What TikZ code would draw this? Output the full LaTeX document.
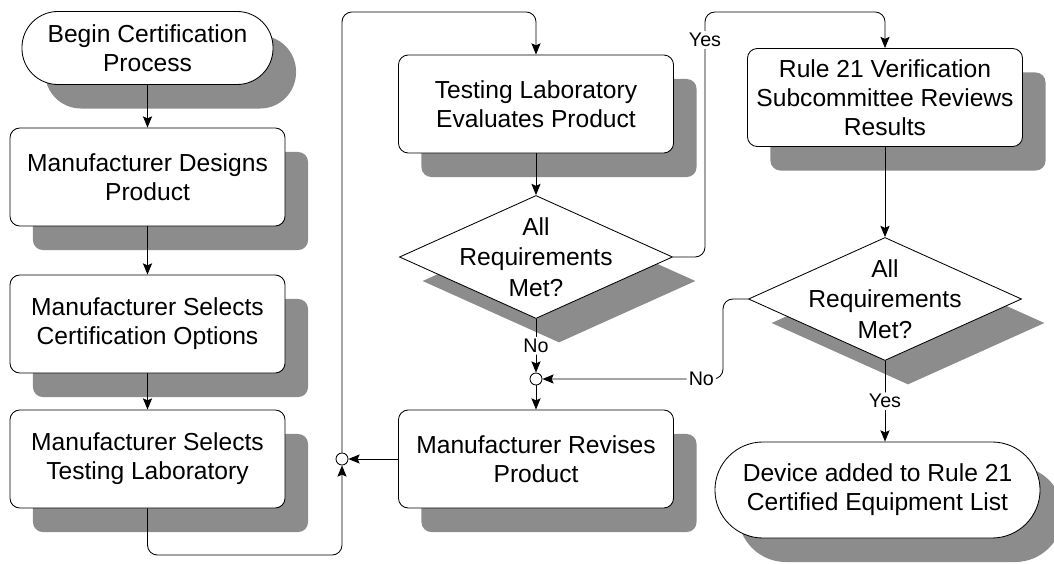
\documentclass[tikz,border=0pt]{standalone}
\usepackage{fontspec}
\setmainfont{Liberation Sans}
\usetikzlibrary{positioning, arrows.meta, calc, shapes.geometric, shadows}

\begin{document}
\begin{tikzpicture}[
    x=0.025cm, y=-0.025cm,
    line width=0.6pt,
    box/.style={
        rectangle,
        draw,
        fill=white,
        rounded corners=7pt,
        minimum width=6.875cm,
        minimum height=2.45cm,
        inner sep=0pt,
        align=center,
        font=\fontsize{17.5}{20.6}\selectfont,
        drop shadow={shadow xshift=0.575cm, shadow yshift=-0.6cm, fill=black!45, opacity=1}
    },
    terminal/.style={
        box,
        rounded corners=0.9cm,
        minimum width=6.275cm,
        minimum height=1.825cm
    },
    decision/.style={
        diamond,
        draw,
        fill=white,
        minimum width=6.825cm,
        minimum height=3.075cm,
        inner sep=0pt,
        drop shadow={shadow xshift=0.575cm, shadow yshift=-0.6cm, fill=black!45, opacity=1}
    },
    decisiontext/.style={
        align=center,
        inner sep=0pt,
        font=\fontsize{17.5}{21.5}\selectfont
    },
    junction/.style={
        circle,
        draw,
        fill=white,
        minimum size=0.3cm,
        inner sep=0pt
    },
    arrow/.style={
        -{Stealth[length=8pt, width=6.5pt, inset=1.5pt]},
        rounded corners=7pt
    },
    lbl/.style={
        fill=white,
        inner sep=1.5pt,
        font=\fontsize{14}{16}\selectfont
    }
]

\useasboundingbox (0,0) rectangle (1054,564);

% ===== left column =====
\node[terminal] (begin) at (147.5,48) {Begin Certification\\Process};
\node[box] (designs) at (147.5,177) {Manufacturer Designs\\Product};
\node[box] (certopts) at (147.5,324) {Manufacturer Selects\\Certification Options};
\node[box] (selectlab) at (147.5,459) {Manufacturer Selects\\Testing Laboratory};

% ===== middle column =====
\node[box] (evaluates) at (536,104) {Testing Laboratory\\Evaluates Product};
\node[decision] (d1) at (536,257) {};
\node[decisiontext] (d1text) at (d1) {All\\Requirements\\Met?};
\node[junction] (j2) at (536,379) {};
\node[box] (revises) at (536,459) {Manufacturer Revises\\Product};
\node[junction] (j1) at (342,459) {};

% ===== right column =====
\node[box] (review) at (885,97.5) {Rule 21 Verification\\Subcommittee Reviews\\Results};
\node[decision] (d2) at (885,299) {};
\node[decisiontext] (d2text) at (d2) {All\\Requirements\\Met?};
\node[terminal, minimum width=8.125cm, minimum height=2.4cm, rounded corners=1.2cm] (final) at (877.5,490) {Device added to Rule 21\\Certified Equipment List};

% ===== bend points =====
\coordinate (low) at (342,555);
\coordinate (high) at (536,12);
\coordinate (yesA) at (705,12);
\coordinate (bendB) at (723,299);

% ===== connectors =====
\foreach \a/\b in {begin/designs, designs/certopts, certopts/selectlab, evaluates/d1, review/d2, j2/revises, revises/j1} {
    \draw[arrow] (\a) -- (\b);
}
\draw[arrow] (selectlab) |- (low) -- (j1);
\draw[arrow] (j1) |- (high) -- (evaluates);
\draw[arrow] (d1) -| (yesA) -| (review);
\node[lbl] (yes1) at (705,40) {Yes};
\draw[arrow] (d1) -- node[lbl] {No} (j2);
\draw[arrow] (d2) -- (bendB) |- node[lbl, pos=0.56] {No} (j2);
\draw[arrow] (d2) -- node[lbl] {Yes} (d2 |- final.north);

\end{tikzpicture}
\end{document}
